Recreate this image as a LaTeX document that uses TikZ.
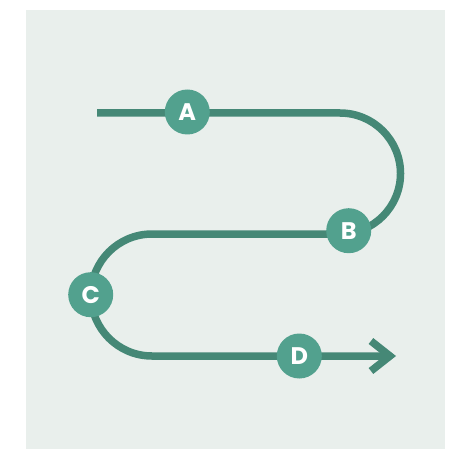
\documentclass[tikz,border=0pt]{standalone}
\usepackage{fontspec}
\setsansfont{Poppins}
\usetikzlibrary{arrows.meta}

\definecolor{pathgreen}{RGB}{69,136,118}
\definecolor{stopgreen}{RGB}{82,161,142}
\definecolor{panel}{RGB}{233,239,236}

\tikzset{
	route/.style={line width=3.75pt, pathgreen},
	stop/.style={circle, fill=stopgreen, minimum size=22.5pt, inner sep=0pt,
		text=white, font=\sffamily\bfseries\fontsize{12}{12}\selectfont}
}

\begin{document}
\begin{tikzpicture}[x=0.5pt,y=0.5pt]
		% frame
		\useasboundingbox (0,0) rectangle (458,450);
		\fill[panel] (26,1) rectangle (445,440);
		
		% corners of the route
		\coordinate (start) at (97,337);
		\coordinate (r1) at (340,337);
		\coordinate (l1) at (152,216);
		\coordinate (finish) at (396,94);
		
		% route
		\draw[route, -{Straight Barb[sharp,length=9.5pt,width=15pt]}] (start) -- (r1)
		arc[start angle=90, end angle=-90, radius=60.5]
		-- (l1)
		arc[start angle=90, end angle=270, radius=61]
		-- (finish);
		
		% stops
		\node[stop] (A) at (187.3,338) {A};
		\node[stop] (B) at (348.7,219.3) {B};
		\node[stop] (C) at (90.7,155.3) {C};
		\node[stop] (D) at (299.3,94) {D};
		
	\end{tikzpicture}
\end{document}
